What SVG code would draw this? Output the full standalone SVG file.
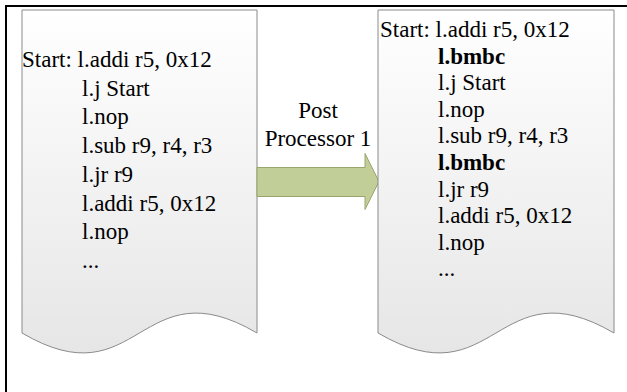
<svg xmlns="http://www.w3.org/2000/svg" width="627" height="392" viewBox="0 0 627 392">
  <style>
    .doc { stroke: #8a8a8a; stroke-width: 1; fill: url(#docGrad); }
    text { font-family: 'Liberation Serif', 'Times New Roman', serif; font-size: 23px; fill: #000; }
    .b { font-weight: bold; }
    .lbl { text-anchor: middle; }
  </style>
  <defs>
    <linearGradient id="docGrad" x1="0" y1="0" x2="0" y2="1">
      <stop offset="0" stop-color="#ffffff"/>
      <stop offset="1" stop-color="#e6e6e6"/>
    </linearGradient>
  </defs>
  <rect width="627" height="392" fill="#ffffff"/>
  <rect x="6" y="6" width="660" height="420" fill="none" stroke="#000" stroke-width="2"/>

  <g id="source-doc">
    <path class="doc" d="M22,10 H257 V333 C139.5,264 139.5,402 22,333 Z"/>
    <text x="22" y="67">Start: l.addi r5, 0x12</text>
    <text x="82" y="95.7">l.j Start</text>
    <text x="82" y="124.4">l.nop</text>
    <text x="82" y="153.1">l.sub r9, r4, r3</text>
    <text x="82" y="181.8">l.jr r9</text>
    <text x="82" y="210.5">l.addi r5, 0x12</text>
    <text x="82" y="239.2">l.nop</text>
    <text x="82" y="267.9">...</text>
  </g>

  <g id="connectors">
    <path d="M257,167.5 H365 V153.5 L379,181.5 L365,209.5 V196.5 H257 Z" fill="#c2ce98" stroke="#98a56c" stroke-width="1"/>
  </g>

  <g id="label-post-processor">
    <text class="lbl" x="318" y="118">Post</text>
    <text class="lbl" x="318" y="146">Processor 1</text>
  </g>

  <g id="output-doc">
    <path class="doc" d="M378,10 H614 V333 C496,264 496,402 378,333 Z"/>
    <text x="380" y="37">Start: l.addi r5, 0x12</text>
    <text class="b" x="438" y="63.6">l.bmbc</text>
    <text x="438" y="90.2">l.j Start</text>
    <text x="438" y="116.8">l.nop</text>
    <text x="438" y="143.4">l.sub r9, r4, r3</text>
    <text class="b" x="438" y="170">l.bmbc</text>
    <text x="438" y="196.6">l.jr r9</text>
    <text x="438" y="223.2">l.addi r5, 0x12</text>
    <text x="438" y="249.8">l.nop</text>
    <text x="438" y="276.4">...</text>
  </g>
</svg>
